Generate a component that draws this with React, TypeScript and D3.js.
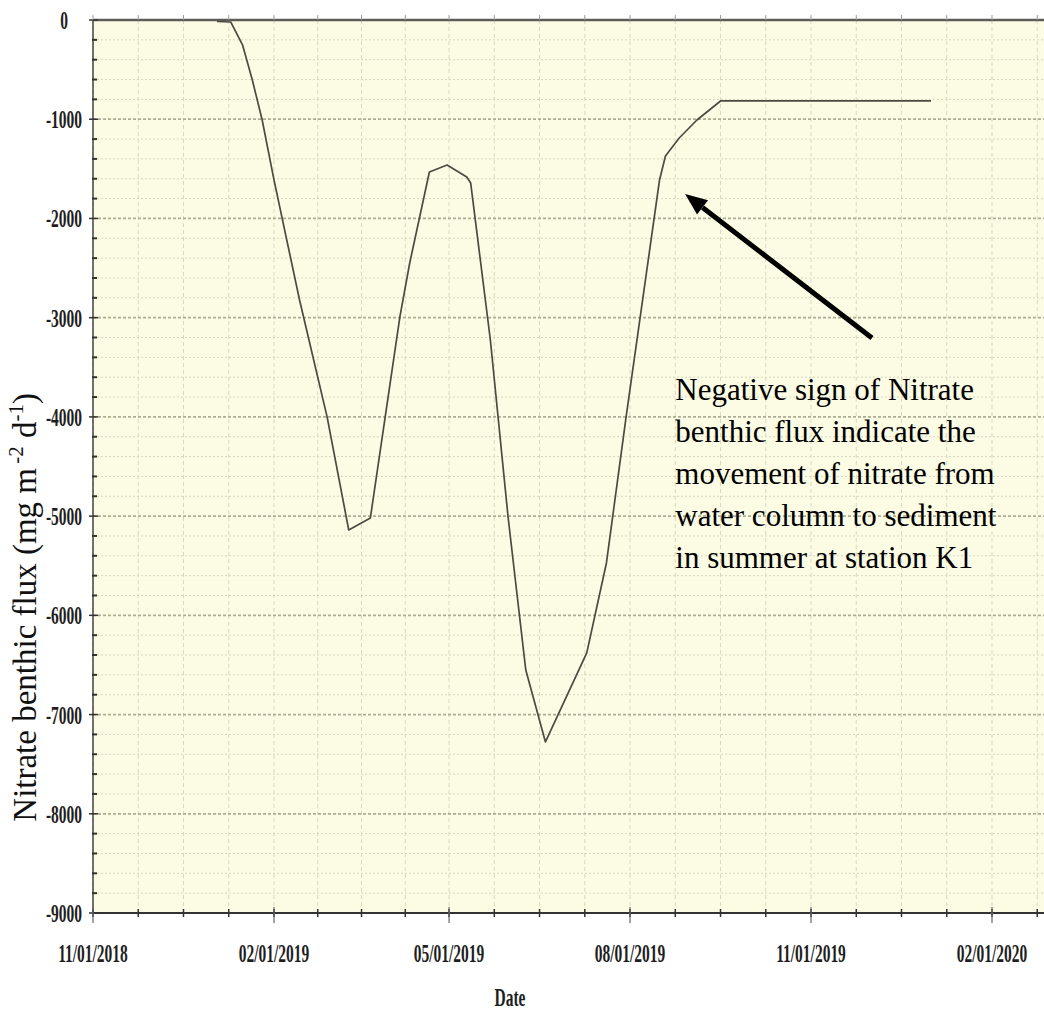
import React from 'react';
import * as d3 from 'd3';

// model output
const dates = [
  '2019-01-03', '2019-01-10', '2019-01-16', '2019-01-21', '2019-01-26', '2019-02-01',
  '2019-02-14', '2019-02-28', '2019-03-11', '2019-03-22', '2019-04-06', '2019-04-11',
  '2019-04-21', '2019-04-30', '2019-05-10', '2019-05-12', '2019-05-22', '2019-05-31',
  '2019-06-09', '2019-06-19', '2019-07-10', '2019-07-20', '2019-07-30', '2019-08-16',
  '2019-08-19', '2019-08-26', '2019-09-04', '2019-09-16', '2020-01-01',
];
const flux = [
  -15, -20, -250, -605, -1008, -1612,
  -2822, -4000, -5140, -5019, -2993, -2449,
  -1532, -1461, -1582, -1643, -3225, -5009,
  -6551, -7276, -6379, -5472, -4001, -1612,
  -1371, -1189, -1008, -816, -816,
];

const xTickLabels = ['11/01/2018', '02/01/2019', '05/01/2019', '08/01/2019', '11/01/2019', '02/01/2020'];
const yTicks = [0, -1000, -2000, -3000, -4000, -5000, -6000, -7000, -8000, -9000];
const yMinorStep = 200;

const noteLines = [
  'Negative sign of Nitrate',
  'benthic flux indicate the',
  'movement of nitrate from',
  'water column to sediment',
  'in summer at station K1',
];
// arrow tail / tip and note anchor, in data space
const arrowFrom = { date: '2019-12-02', value: -3205 };
const arrowTo = { date: '2019-08-29', value: -1754 };
const noteAt = { date: '2019-08-24', value: -3830 };

const W = 1044;
const H = 1017;
const left = 93;
const top = 20;
const bottom = 913;

const serif = '"Liberation Serif", "Times New Roman", serif';
const parseDay = d3.timeParse('%Y-%m-%d');
const parseTick = d3.timeParse('%m/%d/%Y');

const App = () => {
  const tickDates = xTickLabels.map(t => parseTick(t) as Date);
  const x = d3.scaleTime()
    .domain([tickDates[0], tickDates[tickDates.length - 1]])
    .range([left, 992]);
  const y = d3.scaleLinear().domain([0, -9000]).range([top, bottom]);

  // minor x ticks: 4 per labelled interval
  const minorX: number[] = [];
  tickDates.forEach((d, i) => {
    const a = x(d);
    const b = i < tickDates.length - 1 ? x(tickDates[i + 1]) : a + (a - x(tickDates[i - 1]));
    for (let k = 0; k < 4; k++) {
      const v = a + (k * (b - a)) / 4;
      if (v < W) minorX.push(v);
    }
  });
  const minorY = d3.range(0, -9001, -yMinorStep).filter(v => v % 1000 !== 0);

  const pts = dates.map((d, i) => [parseDay(d) as Date, flux[i]] as [Date, number]);
  const line = d3.line<[Date, number]>().x(d => x(d[0])).y(d => y(d[1]));

  const ax = x(parseDay(arrowFrom.date) as Date), ay = y(arrowFrom.value);
  const bx = x(parseDay(arrowTo.date) as Date), by = y(arrowTo.value);
  const ang = Math.atan2(by - ay, bx - ax);
  const headLen = 22, headW = 9;
  const hx = bx - headLen * Math.cos(ang), hy = by - headLen * Math.sin(ang);
  const head = [
    [bx, by],
    [hx + headW * Math.sin(ang), hy - headW * Math.cos(ang)],
    [hx - headW * Math.sin(ang), hy + headW * Math.cos(ang)],
  ].map(p => p.join(',')).join(' ');

  const nx = x(parseDay(noteAt.date) as Date), ny = y(noteAt.value);

  const condensed = {
    fontFamily: serif,
    fontWeight: 'bold' as const,
    fontSize: 25,
    fill: '#1e1e1e',
  };

  return (
    <div style={{ position: 'absolute', left: 0, top: 0 }}>
      <svg width={W} height={H} style={{ display: 'block', background: '#fff' }}>
        <rect x={left} y={top} width={W - left} height={bottom - top} fill="#fcfce4" />

        {/* vertical grid */}
        {minorX.map((v, i) => (
          <line key={'vx' + i} x1={v} x2={v} y1={top} y2={bottom}
            stroke="#d9d9c2" strokeWidth={1} strokeDasharray="4,3" />
        ))}
        {/* horizontal grid */}
        {minorY.map(v => (
          <line key={'hm' + v} x1={left} x2={W} y1={y(v)} y2={y(v)}
            stroke="#d6d6bf" strokeWidth={1} strokeDasharray="2,2" />
        ))}
        {yTicks.slice(1, -1).map(v => (
          <line key={'hM' + v} x1={left} x2={W} y1={y(v)} y2={y(v)}
            stroke="#adad96" strokeWidth={1.8} strokeDasharray="3,2" />
        ))}

        {/* axes */}
        <line x1={left} x2={W} y1={top} y2={top} stroke="#5c5c58" strokeWidth={2.5} />
        <line x1={left} x2={W} y1={bottom} y2={bottom} stroke="#333" strokeWidth={2} />
        <line x1={left} x2={left} y1={top} y2={bottom} stroke="#444" strokeWidth={1.5} />

        {minorY.map(v => (
          <line key={'ty' + v} x1={left - 1} x2={left + 4} y1={y(v)} y2={y(v)} stroke="#333" strokeWidth={2} />
        ))}
        {yTicks.map(v => (
          <line key={'tY' + v} x1={left - 4} x2={left + 5} y1={y(v)} y2={y(v)} stroke="#333" strokeWidth={1.5} />
        ))}
        {minorX.map((v, i) => (
          <line key={'tx' + i} x1={v} x2={v} y1={bottom - 4} y2={bottom + 4} stroke="#333" strokeWidth={1.5} />
        ))}
        {minorX.map((v, i) => (
          <line key={'tt' + i} x1={v} x2={v} y1={top - 5} y2={top} stroke="#999" strokeWidth={1} />
        ))}
        {tickDates.map((d, i) => (
          <line key={'tX' + i} x1={x(d)} x2={x(d)} y1={bottom - 6} y2={bottom + 10} stroke="#666" strokeWidth={1.2} />
        ))}

        {/* y tick labels */}
        {yTicks.map(v => (
          <text key={'ly' + v} {...condensed} textAnchor="middle" dominantBaseline="central"
            transform={`translate(64,${y(v)}) scale(0.62,1)`}>{v}</text>
        ))}
        {/* x tick labels */}
        {tickDates.map((d, i) => (
          <text key={'lx' + i} {...condensed} textAnchor="middle"
            transform={`translate(${x(d)},962) scale(0.62,1)`}>{xTickLabels[i]}</text>
        ))}
        <text {...condensed} textAnchor="middle" transform={`translate(510,1006) scale(0.62,1)`}>Date</text>

        {/* y title */}
        <text transform="translate(36,393) rotate(-90)" textAnchor="end"
          fontFamily={serif} fontSize={33} fill="#111">
          Nitrate benthic flux (mg m
          <tspan fontSize={21} dy={-13}>{'\u2009-2'}</tspan>
          <tspan dy={13}> d</tspan>
          <tspan fontSize={21} dy={-13}>-1</tspan>
          <tspan dy={13}>)</tspan>
        </text>

        {/* series */}
        <path d={line(pts) || ''} fill="none" stroke="#4b4b42" strokeWidth={1.7} strokeLinejoin="round" />

        {/* annotation */}
        <line x1={ax} y1={ay} x2={hx} y2={hy} stroke="#000" strokeWidth={5} />
        <polygon points={head} fill="#000" />
        <text fontFamily={serif} fontSize={31} fill="#000">
          {noteLines.map((t, i) => (
            <tspan key={i} x={nx} y={ny + i * 42}>{t}</tspan>
          ))}
        </text>
      </svg>
    </div>
  );
};

export default App;
